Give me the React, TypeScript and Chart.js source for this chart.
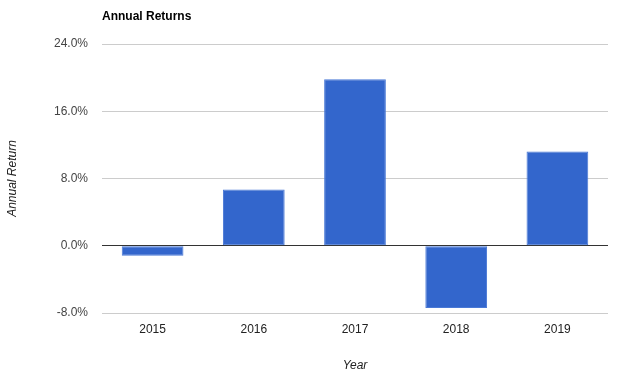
import React, { useEffect, useRef } from "react";
import { Chart, registerables } from "chart.js";

Chart.register(...registerables);

const years = ["2015", "2016", "2017", "2018", "2019"];
const returns = [-1.2, 6.7, 19.8, -7.4, 11.2];
const yMin = -8;
const yMax = 24;
const yStep = 8;
const chartTitle = "Annual Returns";
const yTitle = "Annual Return";
const xTitle = "Year";

const FONT = "'Liberation Sans', Arial, sans-serif";

export default function App() {
  const ref = useRef<HTMLCanvasElement | null>(null);

  useEffect(() => {
    document.body.style.margin = "0";
    const canvas = ref.current;
    if (!canvas) return;

    const textPlugin = {
      id: "texts",
      afterDraw(chart: any) {
        const { ctx, chartArea } = chart;
        ctx.save();
        ctx.fillStyle = "#000";
        ctx.font = `bold 12px ${FONT}`;
        ctx.textAlign = "left";
        ctx.textBaseline = "middle";
        ctx.fillText(chartTitle, chartArea.left, 17);

        ctx.fillStyle = "#222";
        ctx.font = `italic 12px ${FONT}`;
        ctx.textAlign = "center";
        ctx.fillText(xTitle, (chartArea.left + chartArea.right) / 2, 366);

        ctx.translate(13, (chartArea.top + chartArea.bottom) / 2);
        ctx.rotate(-Math.PI / 2);
        ctx.fillText(yTitle, 0, 0);
        ctx.restore();
      },
    };

    const chart = new Chart(canvas, {
      type: "bar",
      data: {
        labels: years,
        datasets: [
          {
            data: returns,
            backgroundColor: "#3366cc",
            borderColor: "#4a79d6",
            borderWidth: 1,
            borderSkipped: false,
            barPercentage: 0.61,
            categoryPercentage: 1,
          },
        ],
      },
      options: {
        animation: false,
        responsive: false,
        maintainAspectRatio: false,
        layout: { padding: { top: 44, right: 16, left: 0, bottom: 0 } },
        plugins: {
          legend: { display: false },
          tooltip: { enabled: false },
          title: { display: false },
        },
        scales: {
          x: {
            grid: { display: false, drawTicks: false },
            border: { display: false },
            ticks: {
              color: "#222",
              font: { family: FONT, size: 12 },
              padding: 9,
            },
            afterFit(scale: any) {
              scale.height = 67;
            },
          },
          y: {
            min: yMin,
            max: yMax,
            border: { display: false },
            grid: {
              drawTicks: false,
              color: (c: any) => (c.tick && c.tick.value === 0 ? "#333333" : "#cccccc"),
              lineWidth: 1,
            },
            ticks: {
              stepSize: yStep,
              color: "#444",
              font: { family: FONT, size: 12 },
              padding: 14,
              callback: (v: any) => Number(v).toFixed(1) + "%",
            },
            afterFit(scale: any) {
              scale.width = 102;
            },
          },
        },
      },
      plugins: [textPlugin],
    });

    return () => chart.destroy();
  }, []);

  return (
    <div style={{ width: 624, height: 380 }}>
      <canvas ref={ref} width={624} height={380} style={{ width: 624, height: 380, display: "block" }} />
    </div>
  );
}
